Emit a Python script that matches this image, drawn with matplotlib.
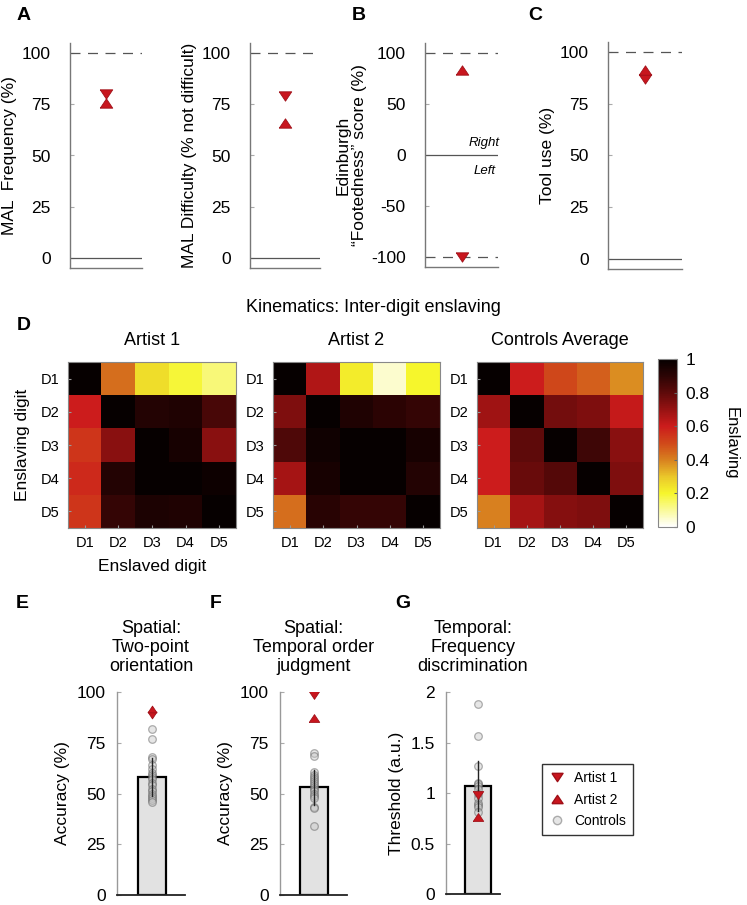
import numpy as np
import matplotlib
matplotlib.use("Agg")
from matplotlib import pyplot as plt
from matplotlib.colors import LinearSegmentedColormap
from matplotlib.lines import Line2D

plt.rcParams['font.family'] = ['Liberation Sans', 'DejaVu Sans']
plt.rcParams['axes.unicode_minus'] = False

W, H = 747, 905
RED = '#c8161e'
RED_EDGE = '#a01018'

# ---------------- data ----------------
# questionnaires (A-C)
mal_freq = [80.0, 75.5]          # artist 1, artist 2
mal_diff = [79.0, 66.0]
footedness = [-100.0, 83.0]
tool_use = [87.0, 91.5]

# enslaving matrices (rows: enslaving digit D1..D5, cols: enslaved digit)
digits = ['D1', 'D2', 'D3', 'D4', 'D5']
artist1_ens = [[1.00, 0.43, 0.25, 0.19, 0.13],
               [0.60, 1.00, 0.92, 0.93, 0.84],
               [0.54, 0.72, 1.00, 0.95, 0.72],
               [0.57, 0.92, 1.00, 1.00, 0.98],
               [0.54, 0.88, 0.94, 0.93, 1.00]]
artist2_ens = [[1.00, 0.65, 0.22, 0.05, 0.20],
               [0.74, 1.00, 0.93, 0.90, 0.88],
               [0.83, 0.97, 1.00, 1.00, 0.95],
               [0.67, 0.95, 1.00, 1.00, 0.92],
               [0.43, 0.91, 0.88, 0.88, 1.00]]
controls_ens = [[1.00, 0.60, 0.50, 0.46, 0.38],
                [0.68, 1.00, 0.76, 0.74, 0.61],
                [0.60, 0.80, 1.00, 0.86, 0.72],
                [0.60, 0.78, 0.82, 1.00, 0.74],
                [0.40, 0.67, 0.73, 0.74, 1.00]]

# sensory tasks (E-G)
twopoint_ctrl = [82, 77, 68, 67, 64, 62, 60, 59, 58, 57, 55, 54, 52, 51, 50, 49, 48, 47, 46]
twopoint_artists = [88.5, 91.5]
twopoint_mean, twopoint_err = 58.2, 9.5

tojud_ctrl = [70, 68.5, 60.5, 59, 58, 57, 56, 55, 54, 53, 52, 51, 50, 49, 48, 43.5, 43, 34]
tojud_artists = [98.5, 87.0]
tojud_mean, tojud_err = 53.0, 8.5

freq_ctrl = [1.88, 1.56, 1.27, 1.10, 1.09, 1.07, 1.04, 0.99, 0.95, 0.90, 0.88, 0.86, 0.81]
freq_artists = [0.98, 0.76]
freq_mean, freq_err = 1.07, 0.25

# slightly flattened triangles, like the original software draws them
TRI_DOWN = [(-1, 0.75), (1, 0.75), (0, -0.75), (-1, 0.75)]
TRI_UP = [(-1, -0.75), (1, -0.75), (0, 0.75), (-1, -0.75)]


def px_axes(x0, y0, x1, y1):
    return fig.add_axes([x0 / W, 1 - y1 / H, (x1 - x0) / W, (y1 - y0) / H])


def style_axis(ax, pad):
    for s in ['top', 'right']:
        ax.spines[s].set_visible(False)
    for s in ['left', 'bottom']:
        ax.spines[s].set_color('#777777')
        ax.spines[s].set_linewidth(1.0)
    ax.tick_params(axis='y', direction='in', length=3, color='#aaaaaa', labelsize=12.5, pad=pad)
    ax.tick_params(axis='x', bottom=False, labelbottom=False)


def artists_markers(ax, vals, ms=9):
    ax.plot(0, vals[0], ls='none', marker=TRI_DOWN, color=RED, mec=RED_EDGE, mew=0.6, ms=ms, zorder=5)
    ax.plot(0, vals[1], ls='none', marker=TRI_UP, color=RED, mec=RED_EDGE, mew=0.6, ms=ms, zorder=5)


fig = plt.figure(figsize=(W / 100, H / 100), dpi=100)

# ---------------- A, B, C ----------------
q_panels = [
    ((70, 43, 142, 268), mal_freq, 'MAL  Frequency (%)', (-5, 105), [0, 25, 50, 75, 100]),
    ((250, 43, 320, 268), mal_diff, 'MAL Difficulty (% not difficult)', (-5, 105), [0, 25, 50, 75, 100]),
    ((425, 43, 498, 267), footedness, 'Edinburgh\n\u201cFootedness\u201d score (%)', (-110, 110), [-100, -50, 0, 50, 100]),
    ((608, 42, 682, 269), tool_use, 'Tool use (%)', (-5, 105), [0, 25, 50, 75, 100]),
]
for box, vals, lab, ylim, yt in q_panels:
    ax = px_axes(*box)
    style_axis(ax, 14)
    ax.set_xlim(-1, 1)
    ax.set_ylim(*ylim)
    ax.set_yticks(yt)
    ax.axhline(100, color='#555555', lw=0.9, dashes=(8, 6))
    if ylim[0] < -100:
        ax.axhline(-100, color='#555555', lw=0.9, dashes=(8, 6))
        ax.text(1.02, 12, 'Right', style='italic', fontsize=9.5, ha='right', va='center',
                transform=ax.get_yaxis_transform())
        ax.text(0.97, -16, 'Left', style='italic', fontsize=9.5, ha='right', va='center',
                transform=ax.get_yaxis_transform())
    ax.axhline(0, color='#555555', lw=0.9)
    artists_markers(ax, vals)
    ax.set_ylabel(lab, fontsize=12.5, multialignment='center', labelpad=3, linespacing=1.1)

fig.text(17 / W, 1 - 16 / H, 'A', fontsize=14, fontweight='bold', va='center')
fig.text(352 / W, 1 - 16 / H, 'B', fontsize=14, fontweight='bold', va='center')
fig.text(528 / W, 1 - 16 / H, 'C', fontsize=14, fontweight='bold', va='center')

# ---------------- D ----------------
cmap = LinearSegmentedColormap.from_list('ens', [
    (0.0, '#ffffff'), (0.1, '#fafa98'), (0.2, '#f6f62c'), (0.3, '#eac62a'),
    (0.4, '#d8801f'), (0.5, '#d0481a'), (0.6, '#cc1c1c'), (0.7, '#961212'),
    (0.8, '#5e0a0a'), (0.9, '#2c0404'), (1.0, '#060000')])

maps = [((68, 362, 236, 528), artist1_ens, 'Artist 1'),
        ((273, 362, 440, 528), artist2_ens, 'Artist 2'),
        ((477, 362, 643, 528), controls_ens, 'Controls Average')]
for i, (box, mat, title) in enumerate(maps):
    ax = px_axes(*box)
    im = ax.imshow(np.array(mat), cmap=cmap, vmin=0, vmax=1, aspect='auto',
                   extent=(0.5, 5.5, 5.5, 0.5), interpolation='nearest')
    ax.set_xticks(range(1, 6))
    ax.set_yticks(range(1, 6))
    ax.set_xticklabels(digits)
    ax.set_yticklabels(digits)
    ax.tick_params(direction='in', length=2, color='#999999', labelsize=10.5, pad=6)
    for s in ax.spines.values():
        s.set_color('#888888')
    ax.set_title(title, fontsize=13, pad=12)
    if i == 0:
        ax.set_ylabel('Enslaving digit', fontsize=12.5, labelpad=8)
        ax.set_xlabel('Enslaved digit', fontsize=12.5, labelpad=6)

cax = px_axes(658, 359, 677, 527)
cb = fig.colorbar(im, cax=cax, ticks=[0, 0.2, 0.4, 0.6, 0.8, 1])
cb.ax.set_yticklabels(['0', '0.2', '0.4', '0.6', '0.8', '1'])
cb.ax.tick_params(labelsize=12.5, direction='in', length=2, color='#666666', pad=6)
cb.outline.set_edgecolor('#888888')
cb.set_label('Enslaving', rotation=270, fontsize=12, labelpad=21)

fig.text(373 / W, 1 - 307 / H, 'Kinematics: Inter-digit enslaving', fontsize=13, ha='center', va='center')
fig.text(17 / W, 1 - 325 / H, 'D', fontsize=14, fontweight='bold', va='center')

# ---------------- E, F, G ----------------
s_panels = [
    ((117, 692, 185, 895), (-1.25, 1.18), twopoint_ctrl, twopoint_artists, twopoint_mean, twopoint_err,
     'Spatial:\nTwo-point\norientation', 'Accuracy (%)', (0, 100), [0, 25, 50, 75, 100], None),
    ((280, 692, 347, 895), (-1.21, 1.18), tojud_ctrl, tojud_artists, tojud_mean, tojud_err,
     'Spatial:\nTemporal order\njudgment', 'Accuracy (%)', (0, 100), [0, 25, 50, 75, 100], None),
    ((446, 692, 500, 894), (-1.23, 0.85), freq_ctrl, freq_artists, freq_mean, freq_err,
     'Temporal:\nFrequency\ndiscrimination', 'Threshold (a.u.)', (0, 2), [0, 0.5, 1, 1.5, 2],
     ['0', '0.5', '1', '1.5', '2']),
]
for k, (box, xl, ctrl, art, mean, err, title, ylab, ylim, yt, ytl) in enumerate(s_panels):
    ax = px_axes(*box)
    style_axis(ax, 8)
    ax.spines['left'].set_color('#999999')
    ax.spines['bottom'].set_color('#222222')
    ax.spines['bottom'].set_linewidth(1.3)
    ax.set_xlim(*xl)
    ax.set_ylim(*ylim)
    ax.set_yticks(yt)
    if ytl:
        ax.set_yticklabels(ytl)
    ax.bar(0, mean, width=1.0, color='#e2e2e2', edgecolor='black', linewidth=1.6, zorder=2)
    ax.plot(np.zeros(len(ctrl)), ctrl, 'o', ms=5.5, mfc='#c8c8c8', mec='#555555',
            mew=0.9, alpha=0.45, zorder=3, clip_on=False)
    ax.plot([0, 0], [mean - err, mean + err], color='#222222', lw=1.0, zorder=4)
    artists_markers(ax, art, ms=6.5 if k == 0 else 7.5)
    ax.set_title(title, fontsize=13, pad=15, linespacing=1.15)
    ax.set_ylabel(ylab, fontsize=12.5, labelpad=5)

fig.text(16 / W, 1 - 603 / H, 'E', fontsize=14, fontweight='bold', va='center')
fig.text(210 / W, 1 - 603 / H, 'F', fontsize=14, fontweight='bold', va='center')
fig.text(395 / W, 1 - 603 / H, 'G', fontsize=14, fontweight='bold', va='center')

handles = [Line2D([], [], ls='none', marker=TRI_DOWN, color=RED, mec=RED_EDGE, ms=8),
           Line2D([], [], ls='none', marker=TRI_UP, color=RED, mec=RED_EDGE, ms=8),
           Line2D([], [], ls='none', marker='o', mfc='#c8c8c8', mec='#555555', alpha=0.45, ms=6)]
leg = fig.legend(handles, ['Artist 1', 'Artist 2', 'Controls'],
                 loc='upper left', bbox_to_anchor=(535 / W, 1 - 757 / H),
                 fontsize=10, frameon=True, fancybox=False, handletextpad=0.6,
                 handlelength=1.2, borderpad=0.5, labelspacing=0.55)
leg.get_frame().set_edgecolor('black')
leg.get_frame().set_linewidth(1.0)

fig.savefig('out.png', dpi=100)
